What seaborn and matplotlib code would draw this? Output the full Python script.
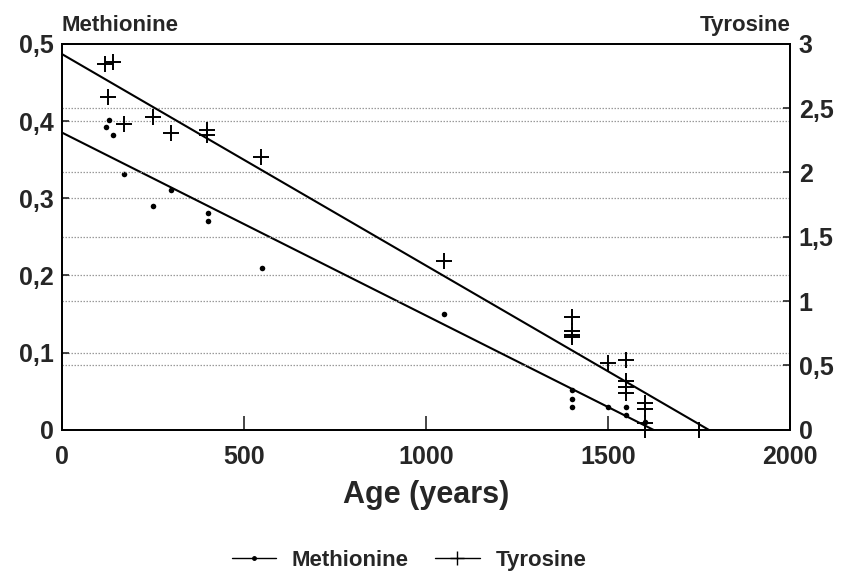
import numpy as np
import pandas as pd
import matplotlib
matplotlib.use("Agg")
import matplotlib.pyplot as plt
from matplotlib.lines import Line2D
import seaborn as sns

# Methionine content (left axis) versus sample age
met_age = [120, 128, 140, 170, 250, 300, 400, 400, 550, 1050,
           1400, 1400, 1400, 1500, 1550, 1550, 1600]
met_val = [0.392, 0.401, 0.382, 0.332, 0.290, 0.311, 0.281, 0.270, 0.210, 0.150,
           0.052, 0.040, 0.029, 0.029, 0.029, 0.019, 0.010]

# Tyrosine content (right axis) versus sample age
tyr_age = [118, 141, 127, 171, 251, 299, 397, 397, 547, 1048,
           1400, 1400, 1400, 1400, 1500, 1550, 1550, 1550, 1550,
           1600, 1600, 1600, 1600, 1750]
tyr_val = [2.84, 2.86, 2.59, 2.38, 2.43, 2.31, 2.33, 2.29, 2.12, 1.31,
           0.88, 0.77, 0.74, 0.72, 0.52, 0.54, 0.38, 0.33, 0.29,
           0.21, 0.16, 0.05, 0.0, 0.0]

# Linear decay fits: value = intercept + slope * age
met_fit = {"intercept": 0.385, "slope": -0.385 / 1624}
tyr_fit = {"intercept": 2.92, "slope": -2.92 / 1776}

left_ticks = [0, 0.1, 0.2, 0.3, 0.4, 0.5]
left_labels = ["0", "0,1", "0,2", "0,3", "0,4", "0,5"]
right_ticks = [0, 0.5, 1, 1.5, 2, 2.5, 3]
right_labels = ["0", "0,5", "1", "1,5", "2", "2,5", "3"]
x_ticks = [0, 500, 1000, 1500, 2000]
x_labels = ["0", "500", "1000", "1500", "2000"]

met_df = pd.DataFrame({"age": met_age, "value": met_val})
tyr_df = pd.DataFrame({"age": tyr_age, "value": tyr_val})

sns.set_theme(style="white")
plt.rcParams["font.family"] = ["Liberation Sans Narrow", "Liberation Sans", "DejaVu Sans"]
plt.rcParams["font.weight"] = "bold"

fig = plt.figure(figsize=(8.43, 5.84), dpi=100)
ax = fig.add_axes([0.0735, 0.264, 0.864, 0.661])
ax2 = ax.twinx()

ax.set_xlim(0, 2000)
ax.set_ylim(0, 0.5)
ax2.set_ylim(0, 3)

# dotted guide lines at every tick of both scales
grid_kw = dict(color="#9a9a9a", lw=0.9, ls=(0, (1.2, 1.2)), zorder=0)
for t in left_ticks[1:-1]:
    ax.axhline(t, **grid_kw)
for t in right_ticks[1:-1]:
    ax2.axhline(t, **grid_kw)

# fitted decay lines, each stopping where it reaches zero
def fit_line(fit, axis):
    x_end = -fit["intercept"] / fit["slope"]
    xs = np.array([0, x_end])
    line_df = pd.DataFrame({"age": xs, "value": fit["intercept"] + fit["slope"] * xs})
    sns.lineplot(data=line_df, x="age", y="value", ax=axis, color="black",
                 lw=1.5, legend=False, clip_on=False)

fit_line(met_fit, ax)
fit_line(tyr_fit, ax2)

sns.scatterplot(data=met_df, x="age", y="value", ax=ax, marker="o", s=16,
                color="black", edgecolor="black", linewidth=0, clip_on=False, zorder=3)
sns.scatterplot(data=tyr_df, x="age", y="value", ax=ax2, marker="+", s=120,
                color="black", linewidth=1.4, clip_on=False, zorder=3)

tick_font = dict(fontsize=18, fontweight="bold")
ax.set_xticks(x_ticks)
ax.set_xticklabels(x_labels, **tick_font)
ax.set_yticks(left_ticks)
ax.set_yticklabels(left_labels, **tick_font)
ax2.set_yticks(right_ticks)
ax2.set_yticklabels(right_labels, **tick_font)

ax.tick_params(axis="x", direction="in", length=10, width=1.2, pad=11, bottom=True)
ax.tick_params(axis="y", direction="in", length=5, width=1.2, pad=6, left=True)
ax2.tick_params(axis="y", direction="in", length=5, width=1.2, pad=6, right=True)

for a in (ax, ax2):
    for sp in a.spines.values():
        sp.set_color("black")
        sp.set_linewidth(1.3)

ax.set_xlabel("Age (years)", fontsize=22, fontweight="bold", labelpad=8)
ax.set_ylabel("")
ax2.set_ylabel("")

ax.text(0, 1.02, "Methionine", transform=ax.transAxes, ha="left", va="bottom",
        fontsize=16, fontweight="bold")
ax2.text(1, 1.02, "Tyrosine", transform=ax2.transAxes, ha="right", va="bottom",
         fontsize=16, fontweight="bold")

handles = [
    Line2D([], [], color="black", lw=1.0, marker="o", markersize=2.5),
    Line2D([], [], color="black", lw=1.0, marker="+", markersize=10, markeredgewidth=1.0),
]
fig.legend(handles, ["Methionine", "Tyrosine"], loc="lower center",
           bbox_to_anchor=(0.485, -0.012), ncol=2, frameon=False,
           prop=dict(size=16, weight="bold"), handlelength=2.0, columnspacing=1.2,
           handletextpad=0.7)

fig.savefig("out.png", dpi=100)
